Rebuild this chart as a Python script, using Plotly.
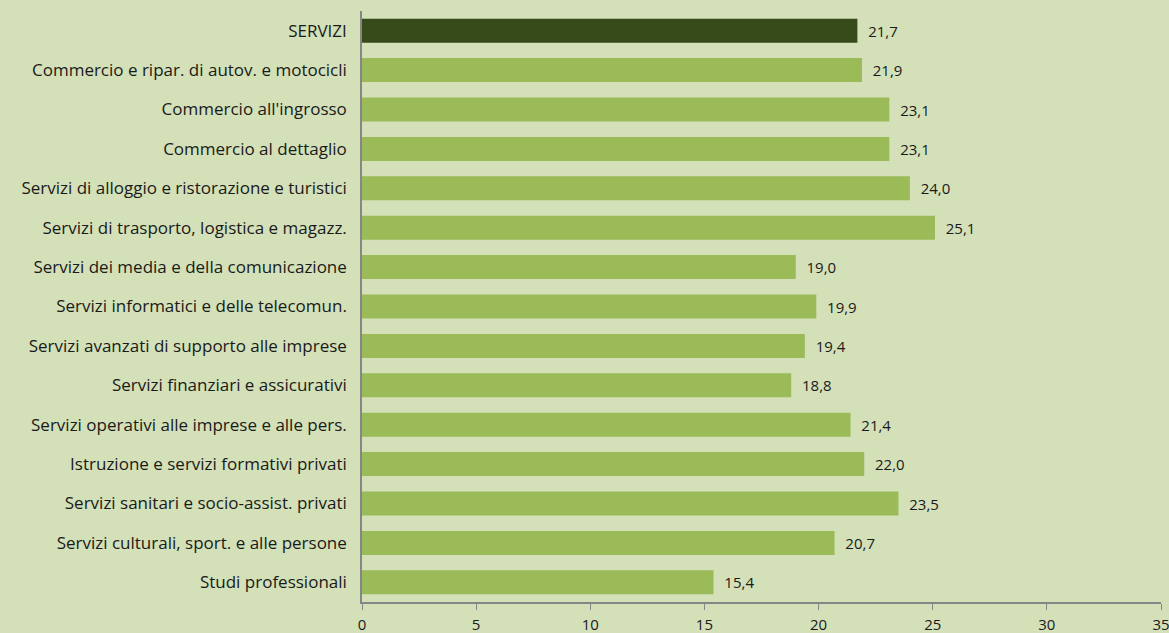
import plotly.graph_objects as go

categories = [
    "SERVIZI",
    "Commercio e ripar. di autov. e motocicli",
    "Commercio all'ingrosso",
    "Commercio al dettaglio",
    "Servizi di alloggio e ristorazione e turistici",
    "Servizi di trasporto, logistica e magazz.",
    "Servizi dei media e della comunicazione",
    "Servizi informatici e delle telecomun.",
    "Servizi avanzati di supporto alle imprese",
    "Servizi finanziari e assicurativi",
    "Servizi operativi alle imprese e alle pers.",
    "Istruzione e servizi formativi privati",
    "Servizi sanitari e socio-assist. privati",
    "Servizi culturali, sport. e alle persone",
    "Studi professionali",
]
values = [21.7, 21.9, 23.1, 23.1, 24.0, 25.1, 19.0, 19.9, 19.4, 18.8, 21.4, 22.0, 23.5, 20.7, 15.4]

bar_colors = ["#374a19"] + ["#9bbb59"] * (len(values) - 1)
labels = ["  " + f"{v:.1f}".replace(".", ",") for v in values]

fig = go.Figure(go.Bar(
    x=values,
    y=categories,
    orientation="h",
    marker=dict(color=bar_colors, line_width=0),
    width=0.61,
    text=labels,
    textposition="outside",
    textfont=dict(size=15, color="#1a1a1a"),
    cliponaxis=False,
))

fig.update_layout(
    width=1169,
    height=633,
    margin=dict(l=362, r=8, t=11, b=31, autoexpand=False),
    plot_bgcolor="#d3e0b8",
    paper_bgcolor="#d3e0b8",
    font=dict(family="Open Sans, sans-serif", size=15, color="#1a1a1a"),
    showlegend=False,
    xaxis=dict(
        range=[0, 35],
        tickvals=[0, 5, 10, 15, 20, 25, 30, 35],
        showgrid=False,
        zeroline=False,
        showline=True,
        linecolor="#868686",
        linewidth=1.5,
        ticks="outside",
        ticklen=6,
        tickcolor="#868686",
        tickfont=dict(size=15),
        ticklabelstandoff=2,
        ticklabeloverflow="allow",
        automargin=False,
    ),
    yaxis=dict(
        showgrid=False,
        showline=True,
        linecolor="#868686",
        linewidth=1.5,
        ticks="",
        ticklabelstandoff=10,
        tickfont=dict(size=17),
        range=[14.5, -0.5],
        autorange=False,
        automargin=False,
    ),
)

fig.write_html(
    "out.html",
    config={"displayModeBar": False},
    post_script="document.body.style.margin='0';document.body.style.background='#d3e0b8';",
)
